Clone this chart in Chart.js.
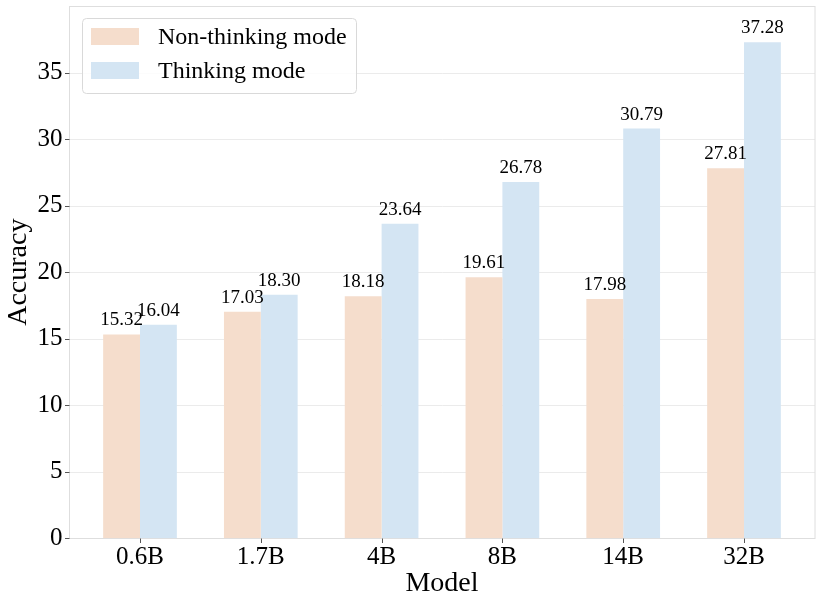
<!DOCTYPE html>
<html>
<head>
<meta charset="utf-8">
<script src="https://cdn.jsdelivr.net/npm/chart.js@4.4.1/dist/chart.umd.min.js"></script>
<style>
html,body{margin:0;padding:0;background:#fff;}
#wrap{width:822px;height:606px;}
</style>
</head>
<body>
<div id="wrap"><canvas id="c" width="822" height="606"></canvas></div>
<script>
const categories = ['0.6B', '1.7B', '4B', '8B', '14B', '32B'];
const nonThinking = [15.32, 17.03, 18.18, 19.61, 17.98, 27.81];
const thinking = [16.04, 18.30, 23.64, 26.78, 30.79, 37.28];
const seriesNames = ['Non-thinking mode', 'Thinking mode'];
const yTicks = [0, 5, 10, 15, 20, 25, 30, 35];

const FONT = "'Liberation Serif', 'Times New Roman', Times, serif";
const PEACH = '#F5DDCC';
const BLUE = '#D4E5F3';
const FRAME_L = 69.5, FRAME_R = 815;

const framePlugin = {
  id: 'frame',
  beforeDatasetsDraw(chart) {
    const ctx = chart.ctx;
    const y = chart.scales.y, x = chart.scales.x;
    const top = chart.chartArea.top, bottom = chart.chartArea.bottom;
    ctx.save();
    ctx.lineWidth = 1;
    ctx.strokeStyle = '#ebebeb';
    yTicks.forEach(v => {
      const py = Math.round(y.getPixelForValue(v)) + 0.5;
      ctx.beginPath(); ctx.moveTo(FRAME_L, py); ctx.lineTo(FRAME_R, py); ctx.stroke();
    });
    ctx.strokeStyle = '#dedede';
    ctx.strokeRect(FRAME_L, Math.round(top) + 0.5, FRAME_R - FRAME_L, Math.round(bottom) - Math.round(top));
    ctx.strokeStyle = '#555';
    yTicks.forEach(v => {
      const py = Math.round(y.getPixelForValue(v)) + 0.5;
      ctx.beginPath(); ctx.moveTo(FRAME_L - 4.5, py); ctx.lineTo(FRAME_L, py); ctx.stroke();
    });
    categories.forEach((c, i) => {
      const px = Math.round(x.getPixelForValue(i)) + 0.5;
      ctx.beginPath(); ctx.moveTo(px, Math.round(bottom) + 0.5); ctx.lineTo(px, Math.round(bottom) + 5); ctx.stroke();
    });
    ctx.restore();
  }
};

const labelPlugin = {
  id: 'vlabels',
  afterDatasetsDraw(chart) {
    const ctx = chart.ctx;
    ctx.save();
    ctx.font = '19px ' + FONT;
    ctx.fillStyle = '#000';
    ctx.textAlign = 'center';
    ctx.textBaseline = 'alphabetic';
    chart.data.datasets.forEach((ds, di) => {
      chart.getDatasetMeta(di).data.forEach((el, i) => {
        ctx.fillText(ds.data[i].toFixed(2), el.x, el.y - 9);
      });
    });
    ctx.restore();
  }
};

const legendPlugin = {
  id: 'boxLegend',
  afterDraw(chart) {
    const ctx = chart.ctx;
    ctx.save();
    const bx = 82.5, by = 18.5, bw = 274, bh = 75, r = 4;
    ctx.beginPath();
    ctx.moveTo(bx + r, by);
    ctx.lineTo(bx + bw - r, by); ctx.arcTo(bx + bw, by, bx + bw, by + r, r);
    ctx.lineTo(bx + bw, by + bh - r); ctx.arcTo(bx + bw, by + bh, bx + bw - r, by + bh, r);
    ctx.lineTo(bx + r, by + bh); ctx.arcTo(bx, by + bh, bx, by + bh - r, r);
    ctx.lineTo(bx, by + r); ctx.arcTo(bx, by, bx + r, by, r);
    ctx.closePath();
    ctx.fillStyle = 'rgba(255,255,255,0.85)';
    ctx.fill();
    ctx.strokeStyle = '#d9d9d9';
    ctx.lineWidth = 1;
    ctx.stroke();
    ctx.font = '24px ' + FONT;
    ctx.textBaseline = 'middle';
    ctx.textAlign = 'left';
    chart.data.datasets.forEach((ds, i) => {
      const sy = 28 + i * 34;
      ctx.fillStyle = ds.backgroundColor;
      ctx.fillRect(91, sy, 48, 17);
      ctx.fillStyle = '#000';
      ctx.fillText(ds.label, 158, sy + 9.5);
    });
    ctx.restore();
  }
};

new Chart(document.getElementById('c'), {
  type: 'bar',
  data: {
    labels: categories,
    datasets: [
      { label: seriesNames[0], data: nonThinking, backgroundColor: PEACH, borderWidth: 0 },
      { label: seriesNames[1], data: thinking, backgroundColor: BLUE, borderWidth: 0 }
    ]
  },
  options: {
    responsive: false,
    animation: false,
    devicePixelRatio: 1,
    layout: { padding: { top: 6, right: 17.6, left: 0, bottom: 0 } },
    datasets: { bar: { categoryPercentage: 0.61, barPercentage: 1.0 } },
    plugins: { legend: { display: false }, tooltip: { enabled: false } },
    scales: {
      x: {
        offset: true,
        grid: { display: false, drawTicks: false },
        border: { display: false },
        ticks: { color: '#000', font: { family: FONT, size: 25 }, padding: 4, maxRotation: 0 },
        title: { display: true, text: 'Model', color: '#000', font: { family: FONT, size: 28 }, padding: { top: 0, bottom: 6 } },
        afterFit(s) { s.height = 67.7; s.paddingLeft = 0; s.paddingRight = 0; }
      },
      y: {
        min: 0, max: 40,
        grid: { display: false, drawTicks: false },
        border: { display: false },
        ticks: {
          stepSize: 5, color: '#000', font: { family: FONT, size: 25 }, padding: 17,
          callback: v => (yTicks.includes(v) ? String(v) : '')
        },
        title: { display: true, text: 'Accuracy', color: '#000', font: { family: FONT, size: 28 }, padding: { top: 2, bottom: 0 } },
        afterFit(s) { s.width = 79.6; s.paddingTop = 0; s.paddingBottom = 0; }
      }
    }
  },
  plugins: [framePlugin, labelPlugin, legendPlugin]
});
</script>
</body>
</html>
